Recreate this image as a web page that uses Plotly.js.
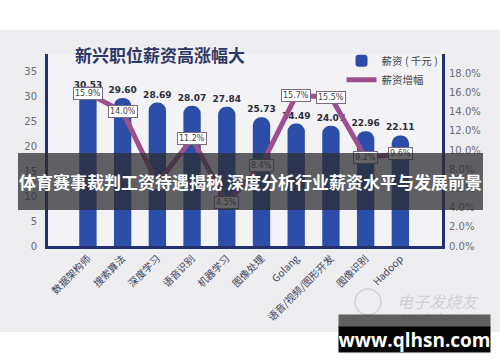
<!DOCTYPE html>
<html>
<head>
<meta charset="utf-8">
<script src="https://cdn.plot.ly/plotly-3.0.1.min.js"></script>
<style>html,body{margin:0;padding:0;background:#fff;}#chart{width:500px;height:362px;}</style>
</head>
<body>
<div id="chart"></div>
<script>
// ---- data ----
const categories = ['数据架构师','搜索算法','深度学习','语音识别','机器学习','图像处理','Golang','语音/视频/图形开发','图像识别','Hadoop'];
const salary = [30.53, 29.60, 28.69, 28.07, 27.84, 25.73, 24.49, 24.07, 22.96, 22.11];
const growth = [15.9, 14.0, 6.5, 11.2, 4.5, 8.4, 15.7, 15.5, 9.2, 9.6];
const leftTicks = [0, 5, 10, 15, 20, 25, 30, 35];
const rightTicks = [0, 2, 4, 6, 8, 10, 12, 14, 16, 18];

const chartTitle = '新兴职位薪资高涨幅大';
const bannerText = '体育赛事裁判工资待遇揭秘 深度分析行业薪资水平与发展前景';
const siteText = 'www.qlhsn.com';

const navy = '#27306e';
const cjk = '"Noto Sans CJK SC", "Noto Sans", sans-serif';

const bars = {
  type: 'bar', name: '薪资 ( 千元 )', x: categories, y: salary,
  width: 0.5,
  marker: {color: '#2c4ea8', line: {width: 0}},
  text: salary.map(v => v.toFixed(2)),
  textposition: 'outside', cliponaxis: false, constraintext: 'none',
  textfont: {family: '"DejaVu Sans", sans-serif', size: 9, color: '#2b2b3a', weight: 'bold'},
  hoverinfo: 'skip'
};
const line = {
  type: 'scatter', mode: 'lines', name: '薪资增幅', x: categories, y: growth,
  yaxis: 'y2',
  line: {color: '#9e4f8e', width: 5},
  hoverinfo: 'skip'
};

const labelAnns = categories.map((c, i) => ({
  x: c, y: growth[i], xref: 'x', yref: 'y2', showarrow: false,
  text: growth[i].toFixed(1) + '%',
  font: {family: '"DejaVu Sans", sans-serif', size: 8, color: '#444'},
  bgcolor: '#ffffff', bordercolor: '#7a6a80', borderwidth: 1, borderpad: 1
}));

const otherAnns = [
  {xref: 'paper', yref: 'paper', x: 0.063, y: 0.995, xanchor: 'left', yanchor: 'middle',
   showarrow: false, text: '<b>' + chartTitle + '</b>',
   font: {family: cjk, size: 17, color: '#2c3766'}},
  // faint source watermark
  {xref: 'paper', yref: 'paper', x: 0.99, y: -0.285, xanchor: 'center', yanchor: 'middle',
   showarrow: false, text: '<i>电子发烧友</i>',
   font: {family: cjk, size: 16, color: '#cfcfd6'}},
  {xref: 'paper', yref: 'paper', x: 0.99, y: -0.37, xanchor: 'center', yanchor: 'middle',
   showarrow: false, text: 'www.elecfans.com',
   font: {family: '"DejaVu Sans", sans-serif', size: 8, color: '#c4c4cc'}},
  // banner
  {xref: 'paper', yref: 'paper', x: 0.513, y: 0.336, xanchor: 'center', yanchor: 'middle',
   showarrow: false, text: '<b>' + bannerText + '</b>',
   width: 465, height: 57, borderpad: 0, borderwidth: 0,
   bgcolor: 'rgba(45,45,48,0.74)',
   font: {family: cjk, size: 17, color: '#ffffff'}},
  // bottom site box
  {xref: 'paper', yref: 'paper', x: 0.931, y: -0.39, xanchor: 'center', yanchor: 'middle',
   showarrow: false, text: ' ', width: 151, height: 12, borderpad: 0,
   bgcolor: 'rgba(70,70,72,0.85)', font: {size: 6}},
  {xref: 'paper', yref: 'paper', x: 0.931, y: -0.487, xanchor: 'center', yanchor: 'middle',
   showarrow: false, text: '<b>' + siteText + '</b>', width: 151, height: 25, borderpad: 0,
   bgcolor: '#050505',
   font: {family: '"Open Sans", "DejaVu Sans", sans-serif', size: 19, color: '#ffffff'}}
];

const layout = {
  width: 500, height: 362,
  margin: {l: 48, r: 58, t: 54, b: 116},
  paper_bgcolor: '#ffffff',
  plot_bgcolor: 'rgba(0,0,0,0)',
  barcornerradius: '50%',
  showlegend: true,
  legend: {x: 0.745, y: 1.04, xanchor: 'left', yanchor: 'top', bgcolor: 'rgba(0,0,0,0)',
           itemwidth: 30, tracegroupgap: 0, entrywidth: 90,
           font: {family: cjk, size: 10.5, color: '#444'}},
  xaxis: {
    type: 'category', range: [-1.15, 10.2], tickangle: -45,
    showline: true, linecolor: navy, linewidth: 3, showgrid: false, zeroline: false,
    ticks: '', tickfont: {family: cjk, size: 10, color: '#3d4258'}, fixedrange: true
  },
  yaxis: {
    range: [0, 38.4], tickvals: leftTicks, ticktext: leftTicks.map(String),
    showline: true, linecolor: navy, linewidth: 3, showgrid: false, zeroline: false,
    ticks: '', ticklabelstandoff: 6,
    tickfont: {family: '"DejaVu Sans", sans-serif', size: 10, color: '#6b6b78'}
  },
  yaxis2: {
    overlaying: 'y', side: 'right', range: [0, 20],
    tickvals: rightTicks, ticktext: rightTicks.map(v => v.toFixed(1) + '%'),
    showline: true, linecolor: navy, linewidth: 3, showgrid: false, zeroline: false,
    ticks: '', ticklabelstandoff: 2,
    tickfont: {family: '"DejaVu Sans", sans-serif', size: 10, color: '#6b6b78'}
  },
  shapes: [
    {type: 'rect', xref: 'paper', yref: 'paper', x0: -0.13, x1: 1.15, y0: -0.448, y1: 1.125,
     fillcolor: '#eeedf0', line: {width: 0}, layer: 'below'},
    {type: 'rect', xref: 'paper', yref: 'paper', x0: 0, x1: 1, y0: 0, y1: 1,
     fillcolor: '#f3f3f6', line: {width: 0}, layer: 'below'},
    {type: 'circle', xref: 'paper', yref: 'paper', x0: 0.779, x1: 0.845, y0: -0.359, y1: -0.224,
     fillcolor: 'rgba(0,0,0,0)', line: {color: '#d2d2d8', width: 1.5}, layer: 'above'}
  ],
  annotations: labelAnns.concat(otherAnns)
};

Plotly.newPlot('chart', [bars, line], layout, {displayModeBar: false, staticPlot: true});
</script>
</body>
</html>
